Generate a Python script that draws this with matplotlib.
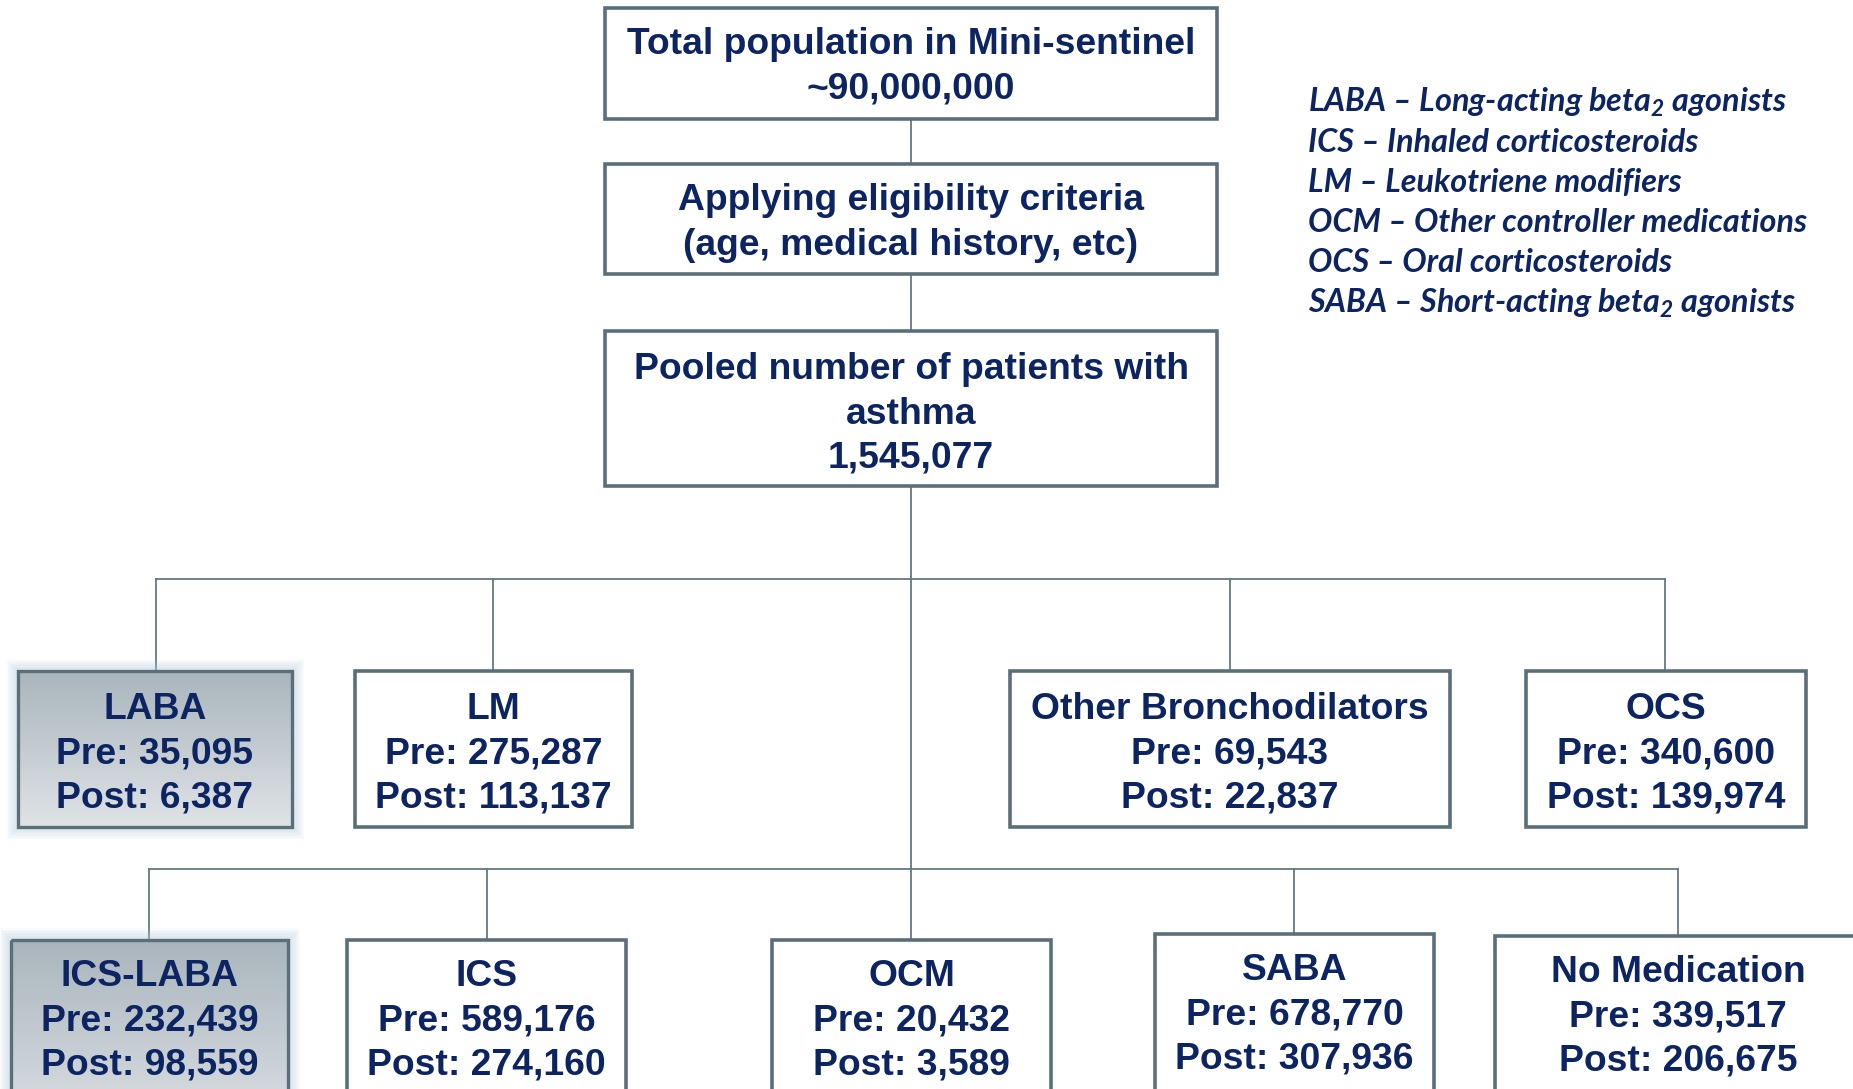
import matplotlib
matplotlib.use("Agg")
import matplotlib.pyplot as plt
import numpy as np
from matplotlib.patches import Rectangle

# chart content
top_lines = ["Total population in Mini-sentinel", "~90,000,000"]
criteria_lines = ["Applying eligibility criteria", "(age, medical history, etc)"]
pooled_lines = ["Pooled number of patients with", "asthma", "1,545,077"]

row1_names = ["LABA", "LM", "Other Bronchodilators", "OCS"]
row1_pre = [35095, 275287, 69543, 340600]
row1_post = [6387, 113137, 22837, 139974]

row2_names = ["ICS-LABA", "ICS", "OCM", "SABA", "No Medication"]
row2_pre = [232439, 589176, 20432, 678770, 339517]
row2_post = [98559, 274160, 3589, 307936, 206675]

shaded = ["LABA", "ICS-LABA"]

legend_lines = [
    r"LABA – Long-acting beta$_{2}$ agonists",
    "ICS – Inhaled corticosteroids",
    "LM – Leukotriene modifiers",
    "OCM – Other controller medications",
    "OCS – Oral corticosteroids",
    r"SABA – Short-acting beta$_{2}$ agonists",
]

# layout (pixels, y down)
W, H = 1853, 1089
NAVY = "#0c2461"
EDGE = "#5b6f7b"
LINE = "#66787f"
FS = 26.8

row1_x = [(18, 292), (355, 632), (1010, 1450), (1526, 1806)]
row1_y = (671, 827)
row1_drop = [156, 493, 1230, 1665]
row2_x = [(11, 288), (347, 626), (772, 1051), (1155, 1434), (1495, 1880)]
row2_top = [940, 940, 940, 934, 936]
row2_drop = [149, 487, 911, 1294, 1678]

plt.rcParams["mathtext.fontset"] = "custom"
plt.rcParams["mathtext.rm"] = "Lato:italic:bold"
plt.rcParams["mathtext.it"] = "Lato:italic:bold"

fig = plt.figure(figsize=(W / 100, H / 100), dpi=100)
ax = fig.add_axes([0, 0, 1, 1])
ax.set_xlim(0, W)
ax.set_ylim(H, 0)
ax.axis("off")


def box(x0, x1, y0, y1, shade=False):
    if shade:
        # soft bluish glow
        for k in range(8, 0, -1):
            ax.add_patch(Rectangle((x0 - k * 1.5, y0 - k * 1.5), x1 - x0 + k * 3, y1 - y0 + k * 3,
                                   facecolor="#b7d0e2", edgecolor="none", alpha=0.08, zorder=2))
        grad = np.linspace(0, 1, 100).reshape(-1, 1)
        im = ax.imshow(grad, cmap=matplotlib.colors.LinearSegmentedColormap.from_list(
            "g", ["#a9b5bd", "#dfe3e6"]), extent=(x0, x1, y1, y0), aspect="auto", zorder=3)
        r = Rectangle((x0, y0), x1 - x0, y1 - y0, facecolor="none", edgecolor=EDGE, lw=2.4, zorder=4)
        ax.add_patch(r)
        im.set_clip_path(r)
    else:
        ax.add_patch(Rectangle((x0, y0), x1 - x0, y1 - y0, facecolor="white", edgecolor=EDGE,
                               lw=2.6, zorder=4))


def label(xc, yc, lines):
    ax.text(xc, yc, "\n".join(lines), ha="center", va="center", fontsize=FS, fontweight="bold",
            family="Liberation Sans", color=NAVY, linespacing=1.345, zorder=5)


# connectors
lw_c = 1.3
ax.plot([911, 911], [119, 164], color=LINE, lw=lw_c, zorder=1)
ax.plot([911, 911], [274, 331], color=LINE, lw=lw_c, zorder=1)
ax.plot([911, 911], [486, 869], color=LINE, lw=lw_c, zorder=1)
ax.plot([min(row1_drop), max(row1_drop)], [579, 579], color=LINE, lw=lw_c, zorder=1)
for x in row1_drop:
    ax.plot([x, x], [579, row1_y[0]], color=LINE, lw=lw_c, zorder=1)
ax.plot([min(row2_drop), max(row2_drop)], [869, 869], color=LINE, lw=lw_c, zorder=1)
for x, t in zip(row2_drop, row2_top):
    ax.plot([x, x], [869, t], color=LINE, lw=lw_c, zorder=1)

# top boxes
box(605, 1217, 8, 119)
label(911, 67, top_lines)
box(605, 1217, 164, 274)
label(911, 223, criteria_lines)
box(605, 1217, 331, 486)
label(911, 414, pooled_lines)

# row 1
for (x0, x1), n, pre, post in zip(row1_x, row1_names, row1_pre, row1_post):
    box(x0, x1, row1_y[0], row1_y[1], shade=n in shaded)
    label((x0 + x1) / 2, 754, [n, f"Pre: {pre:,}", f"Post: {post:,}"])

# row 2
for (x0, x1), t, n, pre, post in zip(row2_x, row2_top, row2_names, row2_pre, row2_post):
    box(x0, x1, t, 1140, shade=n in shaded)
    xc = (x0 + x1) / 2 if x1 < W else 1678
    label(xc, t + 81, [n, f"Pre: {pre:,}", f"Post: {post:,}"])

# abbreviations
for i, s in enumerate(legend_lines):
    ax.text(1308, 102 + i * 40.2, s, ha="left", va="center", fontsize=23.3, family="Lato",
            style="italic", fontweight="bold", color=NAVY, zorder=5)

fig.savefig("out.png", dpi=100)
